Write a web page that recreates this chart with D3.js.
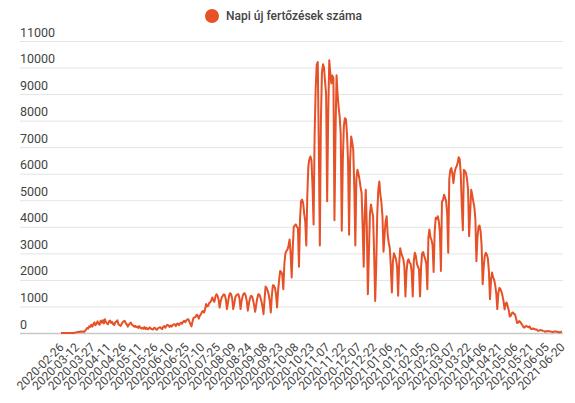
<!DOCTYPE html>
<html>
<head>
<meta charset="utf-8">
<script src="https://cdn.jsdelivr.net/npm/d3@7"></script>
<style>
  body { margin: 0; background: #fff; }
  text { font-family: Roboto, "Noto Sans", sans-serif; }
</style>
</head>
<body>
<div id="wrapper"></div>
<script>
// napi új fertőzések, 2020-02-26-tól naponta (hetente egy sor)
const startDate = "2020-02-26";
const dailyCases = [
    1, 0, 1, 1, 0, 0, 0,
    0, 0, 2, 3, 1, 2, 10,
    15, 25, 31, 45, 38, 60, 50,
    60, 40, 75, 130, 190, 160, 250,
    230, 310, 240, 330, 400, 290, 360,
    440, 340, 310, 460, 390, 480, 360,
    520, 410, 370, 330, 440, 470, 380,
    420, 330, 300, 400, 430, 480, 330,
    300, 270, 330, 400, 440, 460, 370,
    330, 240, 310, 360, 390, 310, 280,
    240, 270, 220, 240, 190, 260, 200,
    170, 200, 160, 220, 150, 200, 140,
    160, 210, 170, 150, 130, 180, 200,
    140, 120, 180, 200, 220, 170, 150,
    240, 260, 200, 270, 310, 280, 230,
    280, 240, 300, 320, 330, 260, 340,
    360, 290, 350, 390, 350, 420, 460,
    410, 470, 510, 520, 430, 340, 250,
    430, 570, 590, 610, 690, 660, 540,
    650, 700, 790, 830, 770, 880, 1090,
    1000, 1020, 1130, 1150, 1240, 1340, 1220,
    1180, 1380, 1460, 1400, 1250, 960, 1200,
    1350, 1400, 1460, 1420, 1250, 900, 1150,
    1400, 1500, 1460, 1300, 900, 1100, 1350,
    1420, 1450, 1460, 1300, 900, 1200, 1380,
    1480, 1500, 1400, 1200, 840, 1100, 1300,
    1400, 1380, 1250, 1050, 800, 1050, 1300,
    1460, 1450, 1350, 1200, 1000, 710, 1250,
    1750, 1700, 1600, 1450, 1200, 775, 1400,
    1800, 1780, 1700, 1450, 960, 1600, 2000,
    2340, 2300, 2200, 1650, 2600, 3000, 3090,
    3150, 3300, 3525, 3000, 2090, 3150, 4000,
    4050, 4090, 4000, 3950, 2500, 4300, 4960,
    5025, 4900, 4500, 4200, 3300, 5200, 6300,
    6550, 6650, 6500, 5500, 4090, 7500, 9200,
    10100, 10210, 7000, 3300, 8000, 9800, 10125,
    10000, 9460, 9000, 4960, 8200, 10275, 9800,
    9400, 9700, 9600, 4250, 7500, 9710, 9000,
    8500, 8150, 7500, 3850, 6500, 7800, 8090,
    8050, 7500, 6500, 3700, 6500, 7400, 7200,
    6900, 5500, 3300, 5800, 6150, 6000, 5775,
    5500, 5275, 4000, 2500, 4500, 5400, 4000,
    1460, 3000, 4500, 4840, 4600, 4400, 3000,
    1210, 2500, 4500, 5400, 5710, 5200, 4900,
    4400, 3060, 3700, 4200, 4400, 3700, 3400,
    3200, 2500, 1525, 2700, 3000, 2900, 2775,
    2500, 1400, 2600, 3190, 3000, 2900, 2775,
    2500, 1375, 2300, 2700, 2775, 2650, 2600,
    2300, 1375, 2700, 3025, 2900, 2600, 2500,
    2400, 1375, 2500, 3000, 3050, 2900, 2775,
    2600, 1650, 3600, 3900, 3600, 3500, 3300,
    2300, 3800, 4340, 4300, 4400, 4200, 3800,
    2340, 4960, 5000, 5210, 5100, 4960, 4500,
    3025, 5800, 6150, 6210, 6000, 5650, 6025,
    6200, 6275, 6400, 6625, 6550, 6000, 4800,
    3875, 6150, 6100, 6025, 5800, 5400, 3650,
    4500, 5400, 5200, 4960, 4750, 4300, 2700,
    3600, 4000, 4050, 3840, 3300, 1840, 2500,
    2900, 3025, 2960, 2800, 2300, 1275, 2000,
    2275, 2100, 2000, 1800, 1500, 900, 1500,
    1700, 1650, 1550, 1400, 1200, 890, 1100,
    1150, 1000, 850, 620, 650, 750, 775,
    720, 700, 550, 380, 390, 450, 420,
    350, 300, 230, 200, 250, 270, 230,
    220, 250, 160, 150, 170, 160, 140,
    130, 120, 80, 90, 110, 100, 95,
    80, 70, 45, 60, 75, 70, 65,
    55, 50, 30, 45, 60, 55, 50,
    40, 35, 20, 40, 55
];
const xTickLabels = [
    "2020-02-26", "2020-03-12", "2020-03-27", "2020-04-11", "2020-04-26",
    "2020-05-11", "2020-05-26", "2020-06-10", "2020-06-25", "2020-07-10",
    "2020-07-25", "2020-08-09", "2020-08-24", "2020-09-08", "2020-09-23",
    "2020-10-08", "2020-10-23", "2020-11-07", "2020-11-22", "2020-12-07",
    "2020-12-22", "2021-01-06", "2021-01-21", "2021-02-05", "2021-02-20",
    "2021-03-07", "2021-03-22", "2021-04-06", "2021-04-21", "2021-05-06",
    "2021-05-21", "2021-06-05", "2021-06-20"
];
const yTicks = [0, 1000, 2000, 3000, 4000, 5000, 6000, 7000, 8000, 9000, 10000, 11000];
const seriesName = "Napi új fertőzések száma";

function drawLineChart() {
    const dateParser = d3.utcParse("%Y-%m-%d");
    const start = dateParser(startDate);
    const dataset = dailyCases.map((v, i) => ({ date: d3.utcDay.offset(start, i), value: v }));

    const xAccessor = dp => dp.date;
    const yAccessor = dp => dp.value;

    const dimensions = {
        width: 575,
        height: 403,
        gridLeft: 20,
        gridRight: 563,
        plotLeft: 61,
        plotRight: 562,
        top: 41,
        bottom: 333,
    };
    const color = "#e65127";

    const wrapper = d3.select("#wrapper")
        .append("svg")
            .attr("width", dimensions.width)
            .attr("height", dimensions.height);

    const xScale = d3.scaleUtc()
        .domain([start, dateParser(xTickLabels[xTickLabels.length - 1])])
        .range([dimensions.plotLeft, dimensions.plotRight]);

    const yScale = d3.scaleLinear()
        .domain([0, 11000])
        .range([dimensions.bottom, dimensions.top]);

    // vízszintes rácsvonalak + feliratok (a rajzterületen belül)
    const yAxis = wrapper.append("g")
        .call(d3.axisRight(yScale).tickValues(yTicks).tickFormat(d3.format("d"))
            .tickSize(dimensions.gridRight - dimensions.gridLeft))
        .attr("transform", `translate(${dimensions.gridLeft},0)`);
    yAxis.select(".domain").remove();
    yAxis.selectAll(".tick line")
        .attr("stroke", d => d === 0 ? "#c8c8c8" : "#e3e3e3")
        .attr("stroke-width", d => d === 0 ? 1.5 : 1);
    yAxis.selectAll(".tick text")
        .attr("x", 0)
        .attr("dy", -5)
        .attr("text-anchor", "start")
        .attr("fill", "#444")
        .style("font-size", "12.5px");

    const xAxis = wrapper.append("g")
        .attr("transform", `translate(0,${dimensions.bottom + 12})`)
        .call(d3.axisBottom(xScale).tickValues(xTickLabels.map(dateParser)).tickSize(0)
            .tickFormat(d3.utcFormat("%Y-%m-%d")));
    xAxis.select(".domain").remove();
    xAxis.selectAll(".tick text")
        .attr("y", 0)
        .attr("dy", "0.35em")
        .attr("text-anchor", "end")
        .attr("transform", "rotate(-45)")
        .attr("fill", "#444")
        .style("font-size", "12px");

    const lineGenerator = d3.line()
        .x(dp => xScale(xAccessor(dp)))
        .y(dp => yScale(yAccessor(dp)));

    wrapper.append("path")
        .attr("d", lineGenerator(dataset))
        .attr("fill", "none")
        .attr("stroke", color)
        .attr("stroke-width", 2)
        .attr("stroke-linejoin", "round");

    const legend = wrapper.append("g");
    legend.append("circle")
        .attr("cx", 212)
        .attr("cy", 16)
        .attr("r", 7)
        .attr("fill", color);
    legend.append("text")
        .attr("x", 226)
        .attr("y", 20)
        .attr("fill", "#444")
        .style("font-size", "12px")
        .style("font-weight", 500)
        .text(seriesName);
}

drawLineChart();
</script>
</body>
</html>
